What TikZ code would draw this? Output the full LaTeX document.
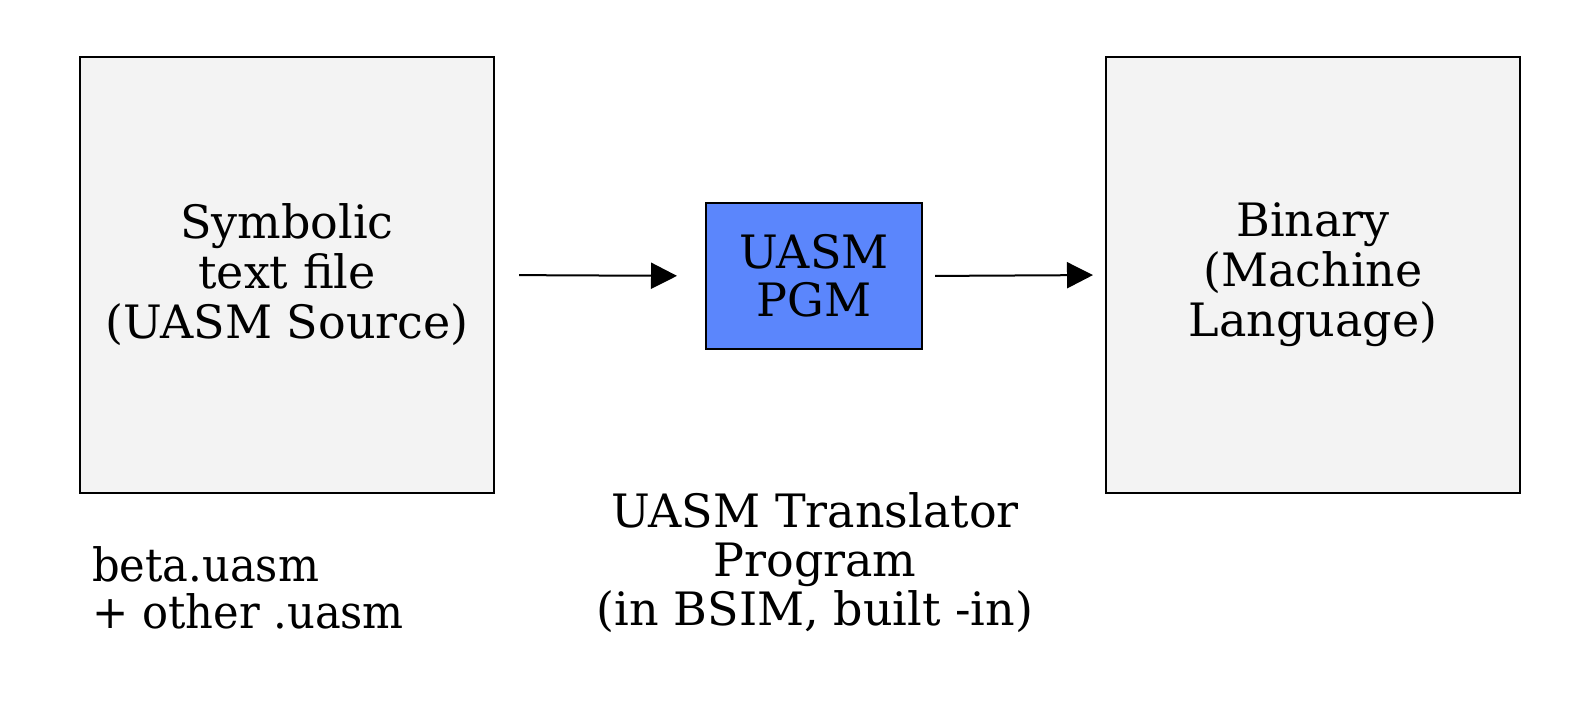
\documentclass[tikz,border=0pt]{standalone}
\usepackage{fontspec}
\setmainfont{DejaVu Serif}
\newfontfamily\narrowfont[FakeStretch=0.94]{DejaVu Serif}
\usetikzlibrary{arrows.meta}
\definecolor{boxgray}{RGB}{243,243,243}
\definecolor{pgmblue}{RGB}{91,134,252}
\tikzset{
  filebox/.style={draw,line width=2pt,fill=boxgray,minimum width=414pt,minimum height=436pt,
    align=center,inner sep=0pt,font=\fontsize{46}{50}\selectfont},
  pgmbox/.style={draw,line width=2pt,fill=pgmblue,minimum width=216pt,minimum height=146pt,
    align=center,inner sep=0pt,font=\fontsize{46}{48}\selectfont},
  flow/.style={line width=2pt,-{Triangle[length=26pt,width=26pt]}},
  caption/.style={align=center,inner sep=0pt,font=\fontsize{46}{49}\selectfont}
}
\begin{document}
\begin{tikzpicture}[x=1pt,y=-1pt]
\useasboundingbox (0,0) rectangle (1573,707);
\node[filebox](src) at (287,275){Symbolic\\text file\\(UASM Source)};
\node[pgmbox](pgm) at (814,276){UASM\\PGM};
\node[filebox](bin) at (1313,275){Binary\\(Machine\\Language)};
\draw[flow,shorten <=24pt,shorten >=28pt](src.east)--(pgm.west);
\draw[flow,shorten <=12pt,shorten >=12pt](pgm.east)--(bin.west);
% labels under the boxes
\node[caption](trans) at (815,563){UASM Translator\\Program\\(in BSIM, built -in)};
\node[caption,align=left,anchor=west,font=\narrowfont\fontsize{46}{47}\selectfont](files) at (92,588){beta.uasm\\+ other .uasm};
\end{tikzpicture}
\end{document}
